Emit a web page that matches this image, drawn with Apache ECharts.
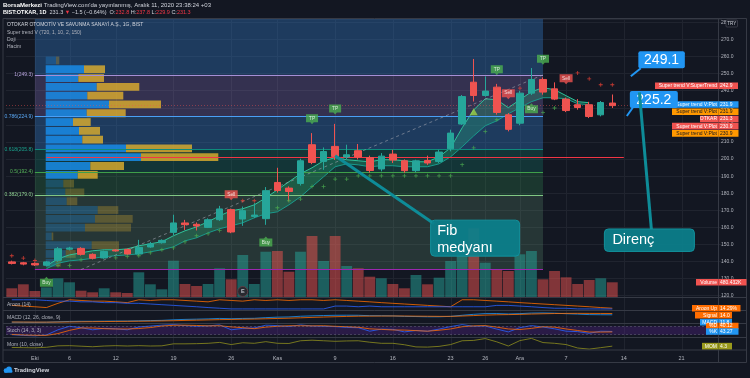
<!DOCTYPE html>
<html><head><meta charset="utf-8">
<script src="https://cdn.jsdelivr.net/npm/echarts@6.0.0/dist/echarts.min.js"></script>
<style>html,body{margin:0;padding:0;background:#131722;overflow:hidden}#c{width:750px;height:378px}</style>
</head><body><div id="c"></div>
<script>
// ---------- DATA ----------
const dates = ['2020-09-29','2020-09-30','2020-10-01','2020-10-02','2020-10-05','2020-10-06','2020-10-07','2020-10-08','2020-10-09','2020-10-12','2020-10-13','2020-10-14','2020-10-15','2020-10-16','2020-10-19','2020-10-20','2020-10-21','2020-10-22','2020-10-23','2020-10-26','2020-10-27','2020-10-28','2020-10-30','2020-11-02','2020-11-03','2020-11-04','2020-11-05','2020-11-06','2020-11-09','2020-11-10','2020-11-11','2020-11-12','2020-11-13','2020-11-16','2020-11-17','2020-11-18','2020-11-19','2020-11-20','2020-11-23','2020-11-24','2020-11-25','2020-11-26','2020-11-27','2020-11-30','2020-12-01','2020-12-02','2020-12-03','2020-12-04','2020-12-07','2020-12-08','2020-12-09','2020-12-10','2020-12-11','2020-12-14','2020-12-15','2020-12-16','2020-12-17','2020-12-18','2020-12-21','2020-12-22','2020-12-23','2020-12-24'];
const tickDates = ['2020-10-01','2020-10-06','2020-10-12','2020-10-19','2020-10-26','2020-11-02','2020-11-09','2020-11-16','2020-11-23','2020-11-26','2020-12-01','2020-12-07','2020-12-14','2020-12-21'];
const tickLabels = ['Eki','6','12','19','26','Kas','9','16','23','26','Ara','7','14','21'];

const open  = [139.8,139.3,138.9,137.8,140.7,147.2,147.7,144.2,142.1,146.8, 147.1,144.4,148.5,151.0,157.1,162.6,161.8,160.0,164.5,170.4, 164.9,166.4,165.1,186.3,183.0,185.7,208.4,198.6,207.4,201.2, 204.9,200.9,194.2,202.9,199.0,193.2,199.2,198.6,206.0,220.5, 245.0,237.2,242.1,225.9,221.0,238.6,246.6,241.1,235.1,231.8, 231.8,225.9,232.8];
const close = [138.9,138.5,138.0,139.8,147.5,147.9,144.2,141.9,145.9,146.2, 144.4,148.3,150.3,152.4,162.6,161.6,160.8,164.5,170.8,157.3, 169.8,167.2,181.5,181.6,181.0,199.0,198.0,204.4,201.5,202.5, 201.2,193.3,201.7,199.4,193.2,199.0,197.7,204.1,215.2,236.6, 237.2,239.8,227.3,217.4,238.6,246.6,239.2,235.1,228.4,230.2, 224.9,233.1,231.3];
const low   = [138.3,137.8,137.4,137.2,139.8,146.5,143.5,141.2,141.6,145.8, 143.9,143.8,148.0,150.5,155.5,158.5,158.2,159.6,163.8,156.6, 160.9,165.4,161.5,180.4,175.2,184.5,197.0,193.7,199.5,200.0, 199.8,192.0,192.8,197.7,192.0,192.3,196.6,197.7,204.5,220.0, 233.7,236.5,226.0,216.2,219.8,237.5,237.7,234.5,227.5,228.9, 224.0,225.0,229.9];
const high  = [140.5,139.8,139.5,140.3,148.5,148.6,148.4,144.8,146.4,147.3, 147.6,152.7,151.5,153.0,167.4,164.4,162.9,165.3,172.6,171.0, 172.2,174.2,183.6,194.9,184.0,200.2,215.2,206.8,220.6,208.4, 208.8,202.0,203.5,205.4,199.8,199.6,202.0,205.4,217.2,237.5, 258.6,248.4,244.0,226.9,240.0,253.3,247.8,244.9,236.0,235.1, 233.5,234.0,237.8];
const volumeK = [291,417,205,322,607,480,215,164,291,164, 142,796,417,259,1163,427,363,427,923,575, 1343,427,1447,1469,815,1447,1943,1153,1943,995, 923,657,607,427,291,711,417,626,1153,1555, 2187,1100,891,837,1365,1469,575,837,638,427, 553,607,480.432];

const stUpper = ['-','-','-',137.5,141.6,143.9,145.1,146.3,146.9,146.9, 147.4,149.2,150.4,151.6,155.1,158.0,160.3,163.3,166.8,169.7, 170.9,173.2,177.3,182.0,186.7,191.4,194.9,199.0,200.8,199.6, 199.0,198.4,199.6,199.6,199.0,198.4,198.4,201.3,206.6,218.3, 228.8,235.3,234.7,230.1,234.7,239.4,241.8,240.6,237.1,233.6, 233.0,'-','-'];
const stLower = ['-','-','-',135.8,139.0,140.4,141.0,141.9,142.8,143.4, 143.9,144.5,145.7,146.9,148.6,152.1,153.9,156.8,159.2,160.9, 162.7,165.6,168.0,169.1,173.2,177.9,183.8,189.6,195.5,197.2, 196.6,195.5,196.1,196.1,195.5,195.5,195.5,197.2,201.3,207.2, 213.6,219.5,222.4,226.5,230.1,233.6,235.9,235.9,235.3,232.4, 231.8,'-','-'];
const plusGreen = ['-','-','-','-',137.7,137.7,141.0,'-','-',142.2, 142.9,143.4,145.1,146.9,148.0,151.5,155.1,156.2,158.2,'-', '-','-','-',171.5,175.6,176.6,183.9,183.9,188.3,188.3, 190.2,190.2,190.2,190.2,190.2,190.2,190.2,190.2,190.2,196.7, 206.6,216.2,223.0,'-','-','-',227.3,229.9,'-','-', '-','-','-'];
const plusRed = [143.4,142.0,140.6,'-','-','-','-','-','-','-', '-','-','-','-','-','-','-','-','-','-', 175.6,175.6,'-','-','-','-','-','-','-','-', '-','-','-','-','-','-','-','-','-','-', '-','-','-','-',241.5,'-','-','-','-',250.4, 247.0,243.5,243.5];

const signalDates  = ['2020-10-02','2020-10-26','2020-10-30','2020-11-05','2020-11-09','2020-11-27','2020-11-30','2020-12-02','2020-12-03','2020-12-07'];
const signalTypes  = ['Buy','Sell','Buy','TP','TP','TP','Sell','Buy','TP','Sell'];
const signalLevels = [128.1,178.8,151.8,223.3,229.0,252.0,238.0,229.8,258.2,246.7];
const triangleDate = '2020-11-25', triangleLevel = 227.7;
const earningsDate = '2020-10-27', earningsLevel = 190;

const fibLevels = [1,0.786,0.618,0.5,0.382,0];
const fibPrices = [249.3,224.9,205.8,192.4,179.0,135.3];
const fibStart = '2020-10-01', fibEnd = '2020-12-03', trendStart = '2020-10-07';
const pocPrice = 201.2, pocStart = '2020-10-02', pocEnd = '2020-12-14';
const lastPrice = 231.3;

const vpTop = 260.3, vpRow = 5.15;
const vpUp   = [103,383,326,510,416,633,410,273,333,366,803,953,446,320,176,196,210,520,493,393,60,460,200,100];
const vpDown = [33,210,257,426,360,520,390,177,210,207,660,773,337,200,107,190,106,206,377,460,16,273,100,50];
const vpValueArea = [0,1,1,1,1,1,1,1,1,1,1,1,1,1,0,0,0,0,0,0,0,0,0,0];

const aroonUp   = [43,36,29,21,64,100,93,86,86,79, 71,100,93,100,100,93,86,79,100,93, 86,100,93,100,93,100,100,93,100,93, 86,79,71,64,57,50,43,36,29,100, 100,93,86,79,71,64,57,50,43,36, 29,21,14.29];
const aroonDown = [100,100,100,93,86,86,79,79,71,71, 64,64,57,50,43,36,29,21,14,7, 7,7,7,7,7,7,7,7,36,36, 29,36,29,29,29,29,29,29,29,29, 29,29,43,43,36,29,21,14,14,7, 7,7,7];
const macd   = [-1.2,-1.3,-1.4,-1.3,-0.6,0.1,0.4,0.4,0.6,0.8, 0.8,1.2,1.6,2.0,3.0,3.7,4.1,4.6,5.4,4.9, 5.4,5.6,6.8,7.6,8.0,9.2,9.9,10.5,10.9,11.0, 10.9,10.2,10.1,9.8,9.0,8.7,8.3,8.3,9.0,10.9, 12.6,13.9,14.0,13.2,13.8,14.8,15.0,14.6,13.7,13.0, 12.1,11.9,11.8];
const macdSignal = [-0.9,-1.0,-1.1,-1.1,-1.0,-0.8,-0.5,-0.3,-0.1,0.1, 0.3,0.5,0.7,1.0,1.4,1.9,2.3,2.8,3.3,3.6, 4.0,4.3,4.8,5.3,5.8,6.5,7.2,7.8,8.4,8.9, 9.3,9.5,9.6,9.7,9.6,9.4,9.2,9.0,9.0,9.6, 10.4,11.2,11.8,12.1,12.5,13.1,13.6,14.0,14.2,14.3, 14.2,14.1,14.0];
const stochK = [20,15,12,18,55,80,70,55,65,62, 55,75,82,88,92,85,80,83,90,55, 65,68,88,85,78,90,82,80,78,72, 70,45,60,58,40,50,45,60,78,92, 80,82,60,40,70,85,75,62,45,42, 30,45,43.27];
const stochD = [22,18,16,15,28,51,68,68,63,61, 61,64,71,82,87,88,86,83,84,76, 70,63,74,80,84,84,83,84,80,77, 73,62,58,54,53,49,45,52,61,77, 83,85,74,61,57,65,77,74,61,50, 39,39,40.12];
const mom = [-3,-4,-5,-2,6,7,4,1,5,7, 5,7,5,6,17,17,18,20,25,13, 23,20,29,20,19,34,37,34,31,33, 34,26,20,20,12,0,-1,3,13,34, 36,46,28,5,35,47,24,20,13,-6, -12,-4,4.3];

// ---------- STYLE / LAYOUT ----------
const FONT = "'Liberation Sans', Arial, sans-serif";
const TXT = '#b2b5be';
const UP = '#26a69a', DN = '#ef5350';
const GL = 6, GR = 28;
const fibLineColors  = ['#a58fd6','#4a9ff5','#0f8a7c','#3f9f4a','#81c784','#9c27b0'];
const fibLabelColors = ['#b7a3dd','#5aa8f5','#1aa58f','#56b35a','#8fd192','#9c27b0'];
const fibFillColors  = ['rgba(140,120,200,0.28)','rgba(53,126,205,0.35)','rgba(19,123,107,0.30)','rgba(49,140,84,0.28)','rgba(102,153,121,0.24)'];
const topFillColor = 'rgba(53,126,205,0.35)';

const chart = echarts.init(document.getElementById('c'));

const candleData = open.map((o,i)=>[o, close[i], low[i], high[i]]);
const volData = volumeK.map((v,i)=>({value:v, itemStyle:{color: close[i]>=open[i] ? 'rgba(38,166,154,0.5)' : 'rgba(239,83,80,0.5)'}}));
const bandDiff = stUpper.map((u,i)=> (u==='-'||stLower[i]==='-') ? '-' : +(u - stLower[i]).toFixed(2));
const vpData = vpUp.map((u,k)=>[0, vpTop-(k+1)*vpRow, vpTop-k*vpRow, u, vpDown[k], vpValueArea[k]]);

const catAxis = g => ({type:'category', gridIndex:g, data:dates, boundaryGap:true, axisLine:{show:false}, axisTick:{show:false}, axisLabel:{show:false}, splitLine:{show:false}});
const xAxes = [0,1,2,3,4,5].map(catAxis);
xAxes[5].axisLabel = {show:true, interval:(i,v)=>tickDates.indexOf(v)>=0, formatter:v=>{const k=tickDates.indexOf(v); return k>=0?tickLabels[k]:'';}, fontSize:5.5, color:TXT, margin:5, fontFamily:FONT};
xAxes.push({type:'value', gridIndex:0, position:'top', min:-397, max:6763, show:false});

const sigSym = {
  Buy:'path://M0,2H5L7,0L9,2H14V10H0Z',
  Sell:'path://M0,0H14V8H9L7,10L5,8H0Z',
  TP:'path://M0,0H14V8H9L7,10L5,8H0Z'
};
const sigColor = {Buy:'#4caf50', Sell:'#f05350', TP:'#4caf50'};
const sigSeries = ['Buy','Sell','TP'].map(t=>({
  type:'scatter', xAxisIndex:0, yAxisIndex:0, z:7, silent:true,
  symbol:sigSym[t], symbolSize:t==='TP'?[12,10]:[13,10],
  itemStyle:{color:sigColor[t]},
  label:{show:true, position:'inside', offset:[0, t==='Buy'?1:-1], formatter:t, color:'#fff', fontSize:4.8, fontFamily:FONT},
  data: signalDates.map((d,k)=>signalTypes[k]===t?[d, signalLevels[k]]:null).filter(Boolean)
}));
const plusPath = 'path://M4,0H6V4H10V6H6V10H4V6H0V4H4Z';

const option = {
  backgroundColor:'#131722', animation:false,
  textStyle:{fontFamily:FONT},
  grid:[
    {left:GL, right:GR, top:19, height:276.7},
    {left:GL, right:GR, top:19, height:278.5},
    {left:GL, right:GR, top:298, height:12.5},
    {left:GL, right:GR, top:310.5, height:13},
    {left:GL, right:GR, top:323.5, height:14},
    {left:GL, right:GR, top:337.5, height:12.5}
  ],
  xAxis: xAxes,
  yAxis:[
    {type:'value', gridIndex:0, position:'right', min:120, max:282, interval:10, axisLine:{show:false}, axisTick:{show:false},
     splitLine:{show:true, lineStyle:{color:'#20242f', width:1}},
     axisLabel:{color:TXT, fontSize:5, margin:-1, fontFamily:FONT, formatter:v=> (Math.abs(v%10)<1e-6 ? v.toFixed(1) : '')}},
    {type:'value', gridIndex:1, min:0, max:8800, show:false},
    {type:'value', gridIndex:2, min:-9, max:118, show:false},
    {type:'value', gridIndex:3, min:-3.5, max:19.3, show:false},
    {type:'value', gridIndex:4, min:0, max:100, show:false},
    {type:'value', gridIndex:5, min:-17, max:52, show:false}
  ],
  series:[
    {type:'line', xAxisIndex:0, yAxisIndex:0, data:[], z:1, silent:true,
     markArea:{silent:true, data:[
       [{coord:[fibStart,282], itemStyle:{color:topFillColor}}, {coord:[fibEnd,fibPrices[0]]}]
     ].concat(fibFillColors.map((c,k)=>[{coord:[fibStart,fibPrices[k]], itemStyle:{color:c}}, {coord:[fibEnd,fibPrices[k+1]]}]))}},
    {type:'bar', xAxisIndex:1, yAxisIndex:1, data:volData, barWidth:'94%', z:2, silent:true},
    {type:'custom', xAxisIndex:6, yAxisIndex:0, z:3, silent:true, data:vpData,
     renderItem:(params, api)=>{
       const lo=api.value(1), hi=api.value(2), u=api.value(3), d=api.value(4), va=api.value(5);
       const a=api.coord([0,hi]), b=api.coord([u,lo]), c=api.coord([u+d,lo]);
       const h=b[1]-a[1]-1;
       return {type:'group', children:[
         {type:'rect', shape:{x:a[0], y:a[1]+0.5, width:b[0]-a[0], height:h}, style:{fill: va?'rgba(25,140,232,0.85)':'rgba(33,150,243,0.28)'}},
         {type:'rect', shape:{x:b[0], y:a[1]+0.5, width:c[0]-b[0], height:h}, style:{fill: va?'rgba(230,180,45,0.78)':'rgba(230,180,45,0.28)'}}
       ]};
     }},
    {type:'line', xAxisIndex:0, yAxisIndex:0, data:[], z:4, silent:true,
     markLine:{silent:true, symbol:['none','none'], label:{show:false}, data:
       fibPrices.map((p,k)=>[{coord:[fibStart,p], lineStyle:{color:fibLineColors[k], width:1, type:'solid'},
          label:{show:k<5, position:'start', distance:2, formatter:fibLevels[k]+'('+p.toFixed(1)+')', color:fibLabelColors[k], fontSize:5, fontFamily:FONT}},
          {coord:[fibEnd,p]}])
       .concat([
         [{coord:[pocStart,pocPrice], lineStyle:{color:'#f23645', width:1, type:'solid'}}, {coord:[pocEnd,pocPrice]}],
         [{coord:[trendStart,fibPrices[5]], lineStyle:{color:'rgba(160,163,175,0.6)', width:1, type:[3,3]}}, {coord:[fibEnd,fibPrices[0]]}],
         {yAxis:lastPrice, lineStyle:{color:'rgba(239,83,80,0.45)', width:1, type:[1,2]}}
       ])}},
    {type:'line', xAxisIndex:0, yAxisIndex:0, data:stLower, stack:'st', z:4, symbol:'none', silent:true, lineStyle:{color:'#1a9a8c', width:1}},
    {type:'line', xAxisIndex:0, yAxisIndex:0, data:bandDiff, stack:'st', z:4, symbol:'none', silent:true, lineStyle:{color:'#2fc19a', width:1}, areaStyle:{color:'rgba(40,190,130,0.38)'}},
    {type:'candlestick', xAxisIndex:0, yAxisIndex:0, data:candleData, z:5, barWidth:7, silent:true,
     itemStyle:{color:UP, color0:DN, borderColor:UP, borderColor0:DN, borderWidth:1}},
    {type:'scatter', xAxisIndex:0, yAxisIndex:0, data:plusGreen, z:6, symbol:plusPath, symbolSize:4, itemStyle:{color:'#4caf50'}, silent:true},
    {type:'scatter', xAxisIndex:0, yAxisIndex:0, data:plusRed, z:6, symbol:plusPath, symbolSize:4, itemStyle:{color:'#f44336'}, silent:true},
    ...sigSeries,
    {type:'scatter', xAxisIndex:0, yAxisIndex:0, z:7, data:[[triangleDate, triangleLevel]], symbol:'triangle', symbolSize:[8,7], itemStyle:{color:'#a0d246'}, silent:true},
    {type:'scatter', xAxisIndex:1, yAxisIndex:1, z:7, data:[[earningsDate, earningsLevel]], symbol:'circle', symbolSize:10, silent:true,
     itemStyle:{color:'#2b1d24', borderColor:'#6d3b45', borderWidth:1},
     label:{show:true, position:'inside', formatter:'E', color:'#e0e3eb', fontSize:5.5, fontWeight:'bold'}},
    {type:'line', xAxisIndex:2, yAxisIndex:2, data:aroonUp, symbol:'none', lineStyle:{color:'#ff6d00', width:0.8}, silent:true},
    {type:'line', xAxisIndex:2, yAxisIndex:2, data:aroonDown, symbol:'none', lineStyle:{color:'#2962ff', width:0.8}, silent:true},
    {type:'line', xAxisIndex:3, yAxisIndex:3, data:macd, symbol:'none', lineStyle:{color:'#2196f3', width:0.8}, silent:true},
    {type:'line', xAxisIndex:3, yAxisIndex:3, data:macdSignal, symbol:'none', lineStyle:{color:'#ff6d00', width:0.8}, silent:true},
    {type:'line', xAxisIndex:4, yAxisIndex:4, data:stochK, symbol:'none', lineStyle:{color:'#2962ff', width:0.8}, silent:true,
     markArea:{silent:true, itemStyle:{color:'rgba(95,35,160,0.30)'}, data:[[{yAxis:20},{yAxis:80}]]},
     markLine:{silent:true, symbol:['none','none'], label:{show:false}, lineStyle:{color:'rgba(120,123,134,0.7)', type:[2,2], width:0.6}, data:[{yAxis:20},{yAxis:80}]}},
    {type:'line', xAxisIndex:4, yAxisIndex:4, data:stochD, symbol:'none', lineStyle:{color:'#ff6d00', width:0.8}, silent:true},
    {type:'line', xAxisIndex:5, yAxisIndex:5, data:mom, symbol:'none', lineStyle:{color:'#8f8f1e', width:0.8}, silent:true}
  ]
};
chart.setOption(option);

// ---------- ANNOTATIONS (anchored through the chart's scales) ----------
const px = (ai, x, y) => chart.convertToPixel({xAxisIndex:ai, yAxisIndex:ai}, [x, y]);
const G = [];
function T(x, y, text, size, fill, extra){
  return {type:'text', x, y, z:50, style:Object.assign({text, fill, fontSize:size, fontFamily:FONT, align:'left', verticalAlign:'middle', textAlign:'left', textVerticalAlign:'middle'}, extra||{})};
}
function L(x1,y1,x2,y2,stroke,w,z){ return {type:'line', z:z==null?45:z, silent:true, shape:{x1,y1,x2,y2}, style:{stroke, lineWidth:w||1}}; }

tickDates.forEach(d=>{ const x = Math.round(px(0, d, 200)[0])+0.5; G.push(L(x,19,x,350,'#20242f',1,0)); });

[18.5,297.5,310.5,323.5,337.5,350,362.5].forEach(y=>G.push(L(3,y,746.5,y,'#363a45',1,40)));
G.push(L(3,18.5,3,362.5,'#363a45',1,40));
G.push(L(718.5,18.5,718.5,362.5,'#363a45',1,40));
G.push(L(746.5,18.5,746.5,362.5,'#363a45',1,40));

G.push(T(3,5.5,"{b|BorsaMerkezi} TradingView.com'da yayınlanmış, Aralık 11, 2020 23:38:24 +03",6,'#d1d4dc',{rich:{b:{fontWeight:'bold',fontSize:6,fill:'#ffffff',color:'#ffffff',fontFamily:FONT}}}));
G.push(T(3,12.5,"{b|BIST:OTKAR, 1D}  231.3 {r|▼} −1.5 (−0.64%)  O:{r|232.8} H:{r|237.8} L:{r|229.9} C:{r|231.3}",5.5,'#d1d4dc',{rich:{b:{fontWeight:'bold',fontSize:5.5,fill:'#ffffff',color:'#ffffff',fontFamily:FONT},r:{fontSize:5.5,fill:'#f23645',color:'#f23645',fontFamily:FONT}}}));
G.push(T(7,24.7,'OTOKAR OTOMOTİV VE SAVUNMA SANAYİ A.Ş., 1G, BIST',5,'#d1d4dc'));
G.push(T(7,33,'Super trend V (720, 1, 10, 2, 150)',5,TXT));
G.push(T(7,39.5,'Doji',5,TXT));
G.push(T(7,46.8,'Hacim',5,TXT));
G.push(T(7,305,'Aroon (14)',5,TXT));
G.push(T(7,318,'MACD (12, 26, close, 9)',5,TXT));
G.push(T(7,331,'Stoch (14, 3, 3)',5,TXT));
G.push(T(7,344.5,'Mom (10, close)',5,TXT));

function tag(x0, xs, x1, yc, bg, name, val, fg){
  G.push({type:'rect', z:60, silent:true, shape:{x:x0, y:yc-3.3, width:x1-x0, height:6.6}, style:{fill:bg}});
  G.push({type:'line', z:61, silent:true, shape:{x1:xs, y1:yc-3.3, x2:xs, y2:yc+3.3}, style:{stroke:'rgba(19,23,34,0.35)', lineWidth:0.6}});
  G.push(T(xs-1.5, yc, name, 5, fg, {align:'right', textAlign:'right'}));
  G.push(T(xs+1.5, yc, val, 5, fg));
  G[G.length-1].z=62; G[G.length-2].z=62;
}
tag(655, 718.5, 738, px(0, dates[52], 242.9)[1], '#f05350', 'Super trend V:SuperTrend', '242.9', '#fff');
const stack = [
  ['#2196f3','Super trend V:Plot',231.9,'#fff',672],
  ['#ff9800','Super trend V:Plot',231.9,'#131722',672],
  ['#f05350','OTKAR',lastPrice,'#fff',700],
  ['#f05350','Super trend V:Plot',230.9,'#fff',672],
  ['#ff9800','Super trend V:Plot',230.9,'#131722',672]
];
let prev = -1e9;
stack.forEach(s=>{ let y = Math.max(px(0, dates[52], s[2])[1], prev+7.2); prev=y; tag(s[4], 718.5, 738.5, y, s[0], s[1], s[2].toFixed(1), s[3]); });
tag(696, 718.5, 746.5, px(1, dates[52], volumeK[52])[1], '#f05350', 'Volume', '480.432K', '#fff');
const yAr = px(2, dates[52], aroonUp[52])[1];
tag(692, 718.5, 740.5, yAr, '#ff6d00', 'Aroon Up', '14.29%', '#fff');
const ySig = Math.max(px(3, dates[52], macdSignal[52])[1], yAr+7);
tag(695, 718.5, 732, ySig, '#ff6d00', 'Signal', macdSignal[52].toFixed(1), '#fff');
const yMacd = Math.max(px(3, dates[52], macd[52])[1], ySig+7);
tag(700, 718.5, 732, yMacd, '#2196f3', 'MACD', macd[52].toFixed(1), '#fff');
const yK = px(4, dates[52], stochK[52])[1];
tag(706, 718.5, 738.5, yK-5.5, '#ff6d00', '%D', stochD[52].toFixed(2), '#fff');
tag(706, 718.5, 738.5, yK, '#2196f3', '%K', stochK[52].toFixed(2), '#fff');
tag(702, 718.5, 732, px(5, dates[52], mom[52])[1], '#9a9a1c', 'MOM', mom[52].toFixed(1), '#fff');

G.push({type:'rect', z:63, silent:true, shape:{x:726, y:20, width:11.5, height:7, r:1}, style:{fill:'#131722', stroke:'#50535e', lineWidth:0.6}});
G.push(T(731.75, 23.5, 'TRY', 4.5, '#d1d4dc', {align:'center', textAlign:'center'}));
G[G.length-1].z=64;

const a1 = px(0, dates[53], 249.1);
G.push({type:'polyline', z:70, silent:true, shape:{points:[[a1[0]+7,a1[1]+1],[a1[0]+17,a1[1]-7]]}, style:{stroke:'#2196f3', lineWidth:2}});
G.push({type:'rect', z:70, silent:true, shape:{x:a1[0]+14.5, y:a1[1]-24, width:46.5, height:17, r:2}, style:{fill:'#2196f3'}});
G.push(T(a1[0]+37.75, a1[1]-15.3, '249.1', 14, '#ffffff', {align:'center', textAlign:'center'})); G[G.length-1].z=71;

const a2 = px(0, dates[53], 225.2);
G.push({type:'polyline', z:70, silent:true, shape:{points:[[a2[0]+3,a2[1]],[a2[0]+9,a2[1]-8.5]]}, style:{stroke:'#2196f3', lineWidth:2}});
G.push({type:'rect', z:70, silent:true, shape:{x:a2[0]+6, y:a2[1]-25, width:48, height:17, r:2}, style:{fill:'#2196f3'}});
G.push(T(a2[0]+30, a2[1]-16.3, '225.2', 14, '#ffffff', {align:'center', textAlign:'center'})); G[G.length-1].z=71;

const f = px(0, dates[28], 202);
G.push({type:'line', z:72, silent:true, shape:{x1:f[0], y1:f[1], x2:f[0]+99, y2:f[1]+68}, style:{stroke:'#0e8c98', lineWidth:3}});
G.push({type:'rect', z:73, silent:true, shape:{x:f[0]+95.5, y:f[1]+64.5, width:89, height:36, r:4}, style:{fill:'rgba(11,128,140,0.93)', stroke:'#13919c', lineWidth:1}});
G.push(T(f[0]+102, f[1]+75.5, 'Fib', 14.5, '#ffffff')); G[G.length-1].z=74;
G.push(T(f[0]+102, f[1]+92, 'medyanı', 14.5, '#ffffff')); G[G.length-1].z=74;

const r = px(0, dates[54], 239);
G.push({type:'line', z:72, silent:true, shape:{x1:r[0]+4, y1:r[1], x2:r[0]+16, y2:r[1]+137}, style:{stroke:'#0e8c98', lineWidth:3}});
G.push({type:'rect', z:73, silent:true, shape:{x:r[0]-31, y:r[1]+136.5, width:90, height:22.5, r:4}, style:{fill:'rgba(11,128,140,0.93)', stroke:'#13919c', lineWidth:1}});
G.push(T(r[0]-23, r[1]+148, 'Direnç', 14.5, '#ffffff')); G[G.length-1].z=74;

G.push({type:'circle', z:50, silent:true, shape:{cx:6, cy:370.5, r:2.3}, style:{fill:'#2196f3'}});
G.push({type:'circle', z:50, silent:true, shape:{cx:9, cy:369.2, r:2.8}, style:{fill:'#2196f3'}});
G.push({type:'rect', z:50, silent:true, shape:{x:4, y:370, width:8.5, height:2.8, r:1.2}, style:{fill:'#2196f3'}});
G.push(T(14, 370.5, 'TradingView', 6, '#d1d4dc', {fontWeight:'bold'}));

chart.setOption({graphic:{elements:G}});
</script></body></html>
